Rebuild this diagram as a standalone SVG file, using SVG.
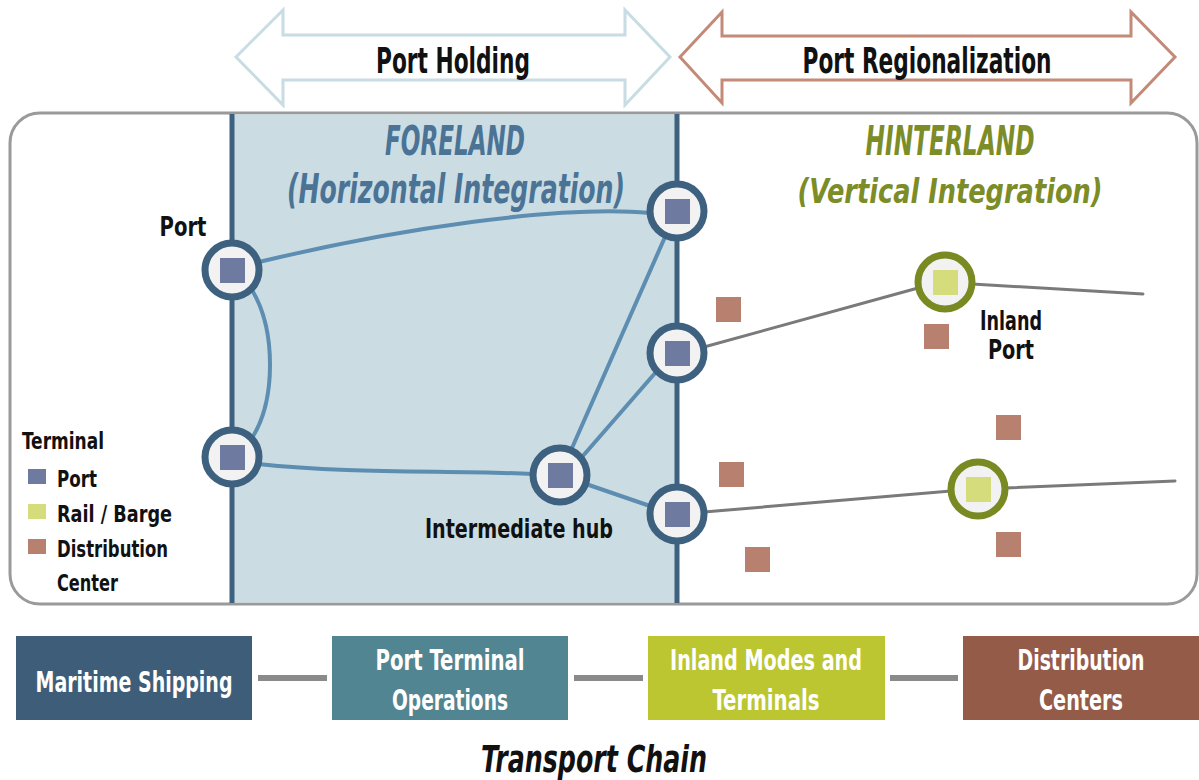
<svg xmlns="http://www.w3.org/2000/svg" width="1199" height="780" viewBox="0 0 1199 780">
<style>
text{font-family:"Liberation Sans Narrow","DejaVu Sans Condensed","Liberation Sans",sans-serif;font-stretch:condensed;font-weight:bold}
.lbl{fill:#111;font-size:27px}
.leg{fill:#111;font-size:23px}
.head{font-size:40px;font-style:italic;font-weight:bold}
.fore{fill:#4a7395}
.hint{fill:#7c8c26}
.box{font-size:28px;fill:#fff;font-weight:bold}
.ring{fill:#f2f2f2;stroke:#3e6180;stroke-width:7}
.gring{fill:#f2f2f2;stroke:#7a8a22;stroke-width:7}
.psq{fill:#6e7aa0}
.rsq{fill:#d5dc7c}
.dsq{fill:#b8806e}
.blue{fill:none;stroke:#5d8db0;stroke-width:4;stroke-linecap:round}
.gray{fill:none;stroke:#7a7a7a;stroke-width:3;stroke-linecap:round}
.chain{stroke:#8a8a8a;stroke-width:6}
</style>

<g id="top-arrows">
<g id="port-holding">
<polygon points="236,57 283,10 283,35 625,35 625,10 670,57 625,105 625,80 283,80 283,105" fill="#fff" stroke="#c8dce4" stroke-width="3" stroke-linejoin="miter"/>
<text x="453" y="73" font-size="35" fill="#111" text-anchor="middle" textLength="154" lengthAdjust="spacingAndGlyphs">Port Holding</text>
</g>
<g id="port-regionalization">
<polygon points="680,57 722,12 722,36 1131,36 1131,12 1175,57 1131,103 1131,80 722,80 722,103" fill="#fff" stroke="#c38a78" stroke-width="3"/>
<text x="927" y="73" font-size="35" fill="#111" text-anchor="middle" textLength="249" lengthAdjust="spacingAndGlyphs">Port Regionalization</text>
</g>
</g>

<g id="frame">
<rect x="10" y="113" width="1187" height="491" rx="30" fill="#fff" stroke="#9a9a9a" stroke-width="3"/>
<rect x="232" y="114.5" width="445" height="488" fill="#cbdde3"/>
<line x1="232" y1="114" x2="232" y2="603" stroke="#3e6180" stroke-width="5"/>
<line x1="677" y1="114" x2="677" y2="603" stroke="#3e6180" stroke-width="5"/>
</g>

<g id="titles">
<text class="head fore" x="455" y="155" text-anchor="middle" textLength="140" lengthAdjust="spacingAndGlyphs">FORELAND</text>
<text class="head fore" x="456" y="203" text-anchor="middle" textLength="338" lengthAdjust="spacingAndGlyphs">(Horizontal Integration)</text>
<text class="head hint" x="950" y="155" text-anchor="middle" textLength="169" lengthAdjust="spacingAndGlyphs">HINTERLAND</text>
<text class="head hint" x="950" y="203" font-size="34" style="font-size:34px" text-anchor="middle" textLength="305" lengthAdjust="spacingAndGlyphs">(Vertical Integration)</text>
</g>

<g id="connectors">
<path class="blue" d="M259 262 C400 228 560 205 650 213"/>
<path class="blue" d="M252 290 C276 330 276 400 252 438"/>
<path class="blue" d="M258 464 C350 474 450 470 533 474"/>
<line class="blue" x1="572" y1="448" x2="665" y2="237"/>
<line class="blue" x1="582" y1="457" x2="656" y2="372"/>
<line class="blue" x1="586" y1="484" x2="650" y2="506"/>
<line class="gray" x1="704" y1="347" x2="918" y2="288"/>
<line class="gray" x1="972" y1="284" x2="1143" y2="294"/>
<line class="gray" x1="704" y1="512" x2="951" y2="491"/>
<line class="gray" x1="1005" y1="488" x2="1175" y2="481"/>
<line class="chain" x1="258" y1="678" x2="327" y2="678"/>
<line class="chain" x1="574" y1="678" x2="643" y2="678"/>
<line class="chain" x1="890" y1="678" x2="958" y2="678"/>
</g>

<g id="port-a"><circle class="ring" cx="232" cy="270" r="27"/><rect class="psq" x="220" y="258" width="25" height="25"/></g>
<g id="port-b"><circle class="ring" cx="232" cy="457" r="27"/><rect class="psq" x="220" y="445" width="25" height="25"/></g>
<g id="port-c"><circle class="ring" cx="677" cy="211" r="27"/><rect class="psq" x="665" y="199" width="25" height="25"/></g>
<g id="port-d"><circle class="ring" cx="677" cy="353" r="27"/><rect class="psq" x="665" y="341" width="25" height="25"/></g>
<g id="port-e"><circle class="ring" cx="677" cy="514" r="27"/><rect class="psq" x="665" y="502" width="25" height="25"/></g>
<g id="intermediate-hub"><circle class="ring" cx="560" cy="475" r="27"/><rect class="psq" x="548" y="463" width="25" height="25"/></g>
<g id="inland-port-1"><circle class="gring" cx="945" cy="282" r="27"/><rect class="rsq" x="933" y="270" width="25" height="25"/></g>
<g id="inland-port-2"><circle class="gring" cx="978" cy="489" r="27"/><rect class="rsq" x="966" y="477" width="25" height="25"/></g>

<g id="distribution-centers">
<rect class="dsq" x="716" y="297" width="25" height="25"/>
<rect class="dsq" x="924" y="324" width="25" height="25"/>
<rect class="dsq" x="719" y="462" width="25" height="25"/>
<rect class="dsq" x="996" y="415" width="25" height="25"/>
<rect class="dsq" x="745" y="547" width="25" height="25"/>
<rect class="dsq" x="996" y="532" width="25" height="25"/>
</g>

<g id="labels">
<text class="lbl" x="183" y="236" text-anchor="middle" textLength="47" lengthAdjust="spacingAndGlyphs">Port</text>
<text class="lbl" x="1011" y="330" text-anchor="middle" textLength="62" lengthAdjust="spacingAndGlyphs">Inland</text>
<text class="lbl" x="1011" y="359" text-anchor="middle" textLength="46" lengthAdjust="spacingAndGlyphs">Port</text>
<text class="lbl" x="519" y="538" text-anchor="middle" textLength="188" lengthAdjust="spacingAndGlyphs">Intermediate hub</text>
</g>

<g id="legend">
<text class="leg" x="22" y="449" textLength="82" lengthAdjust="spacingAndGlyphs">Terminal</text>
<rect class="psq" x="28" y="469" width="18" height="15"/>
<text class="leg" x="57" y="487" textLength="40" lengthAdjust="spacingAndGlyphs">Port</text>
<rect fill="#d5dc7c" x="28" y="504" width="18" height="15"/>
<text class="leg" x="57" y="522" textLength="115" lengthAdjust="spacingAndGlyphs">Rail / Barge</text>
<rect class="dsq" x="28" y="539" width="18" height="15"/>
<text class="leg" x="57" y="557" textLength="111" lengthAdjust="spacingAndGlyphs">Distribution</text>
<text class="leg" x="57" y="591" textLength="61" lengthAdjust="spacingAndGlyphs">Center</text>
</g>

<g id="maritime-shipping">
<rect x="16" y="636" width="236" height="84" fill="#3e5d78"/>
<text class="box" x="134" y="692" text-anchor="middle" textLength="197" lengthAdjust="spacingAndGlyphs">Maritime Shipping</text>
</g>
<g id="port-terminal-operations">
<rect x="332" y="636" width="236" height="84" fill="#518592"/>
<text class="box" x="450" y="670" text-anchor="middle" textLength="149" lengthAdjust="spacingAndGlyphs">Port Terminal</text>
<text class="box" x="450" y="710" text-anchor="middle" textLength="116" lengthAdjust="spacingAndGlyphs">Operations</text>
</g>
<g id="inland-modes">
<rect x="648" y="636" width="237" height="84" fill="#bcc630"/>
<text class="box" x="766" y="670" text-anchor="middle" textLength="192" lengthAdjust="spacingAndGlyphs">Inland Modes and</text>
<text class="box" x="766" y="710" text-anchor="middle" textLength="107" lengthAdjust="spacingAndGlyphs">Terminals</text>
</g>
<g id="distribution-centers-box">
<rect x="963" y="636" width="236" height="84" fill="#955b49"/>
<text class="box" x="1081" y="670" text-anchor="middle" textLength="127" lengthAdjust="spacingAndGlyphs">Distribution</text>
<text class="box" x="1081" y="710" text-anchor="middle" textLength="84" lengthAdjust="spacingAndGlyphs">Centers</text>
</g>

<text x="594" y="772" font-size="38" font-style="italic" fill="#111" text-anchor="middle" textLength="226" lengthAdjust="spacingAndGlyphs">Transport Chain</text>
</svg>
